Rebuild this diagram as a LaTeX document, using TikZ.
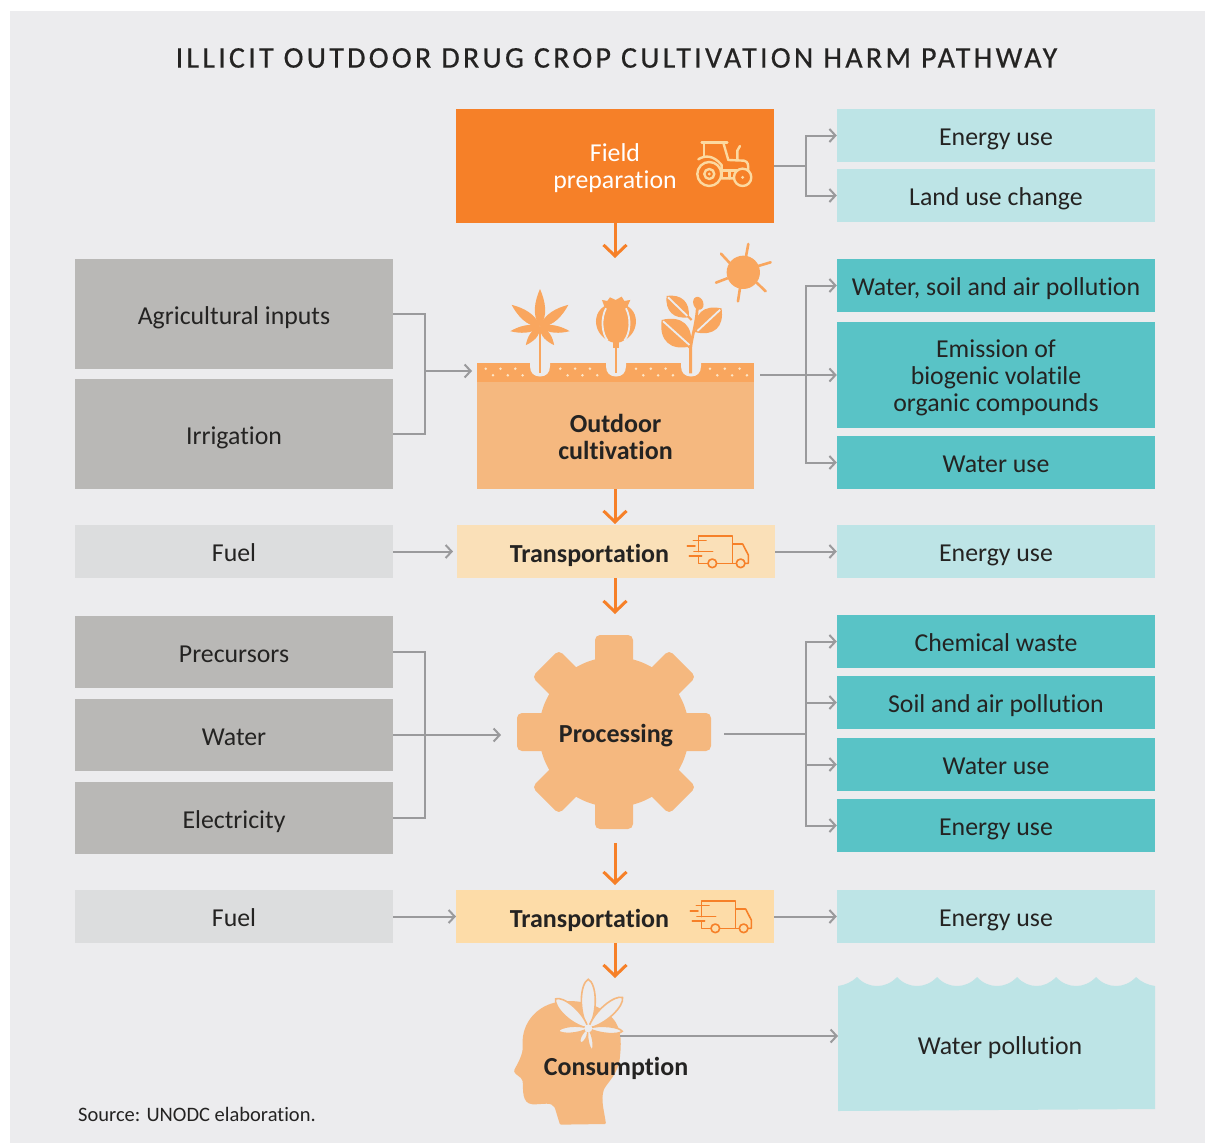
\documentclass[tikz,border=0pt]{standalone}
\usepackage{fontspec}
\setmainfont[Ligatures=NoCommon]{Carlito}
\newfontfamily\titlefont[LetterSpace=10.8,FakeBold=0.5,Ligatures=NoCommon]{Carlito}
\usetikzlibrary{arrows.meta}
\definecolor{bgc}{HTML}{ECECEE}
\definecolor{fieldc}{HTML}{F68028}
\definecolor{lteal}{HTML}{BDE4E6}
\definecolor{dteal}{HTML}{59C3C6}
\definecolor{dgray}{HTML}{B9B8B6}
\definecolor{lgray}{HTML}{DCDDDE}
\definecolor{transa}{HTML}{FAE0B8}
\definecolor{transb}{HTML}{FDDCA8}
\definecolor{tanc}{HTML}{F5B87F}
\definecolor{soilc}{HTML}{F9A65E}
\definecolor{txtc}{HTML}{242322}
\definecolor{linec}{HTML}{9A9A9C}
\definecolor{tractorc}{HTML}{FCD9A0}
\definecolor{dotc}{HTML}{FDE6C8}
\newcommand\petal[6]{\path[#1,shift={(#2,#3)},rotate=#4] (0,0) .. controls ({.3*#5},{#6}) and ({.7*#5},{.6*#6}) .. (#5,0) .. controls ({.7*#5},{-.6*#6}) and ({.3*#5},{-#6}) .. cycle;}
\newcommand\roundpetal[6]{\path[#1,shift={(#2,#3)},rotate=#4] (0,0) .. controls ({.35*#5},{1.05*#6}) and ({.92*#5},{.8*#6}) .. (#5,0) .. controls ({.92*#5},{-.8*#6}) and ({.35*#5},{-1.05*#6}) .. cycle;}
\tikzset{
  x=1pt,y=-1pt,
  boxbase/.style={inner sep=0pt,minimum width=318pt,align=center,text=txtc,font=\fontsize{25.8}{27}\selectfont},
  oneline/.style={text height=20pt,text depth=0pt},
  lightbox/.style={boxbase,oneline,fill=lteal},
  tealbox/.style={boxbase,oneline,fill=dteal},
  graybox/.style={boxbase,oneline,fill=dgray},
  fuelbox/.style={boxbase,oneline,fill=lgray},
  plainbox/.style={inner sep=0pt},
  strong/.style={inner sep=0pt,align=center,text=txtc,font=\fontsize{26}{27}\selectfont\bfseries},
  gline/.style={draw=linec,line width=2pt},
  garrow/.style={gline,-{Straight Barb[length=6pt,width=13pt,line width=2pt]}},
  oarrow/.style={draw=fieldc,line width=3pt,-{Straight Barb[length=11pt,width=23pt,line width=3pt]}},
  tractorline/.style={draw=tractorc,line width=2.4pt,line cap=round,line join=round},
  truckline/.style={draw=fieldc,line width=1.6pt,line cap=round,line join=round},
}
\begin{document}
\begin{tikzpicture}
\useasboundingbox (0,0) rectangle (1205,1143);
\fill[white] (0,0) rectangle (1205,1143);
\fill[bgc] (10,11) rectangle (1205,1143);

\node[inner sep=0pt,text=txtc,font=\fontsize{30}{32}\titlefont] (title) at (616.5,58) {ILLICIT OUTDOOR DRUG CROP CULTIVATION HARM PATHWAY};
\node[inner sep=0pt,anchor=west,text=txtc,font=\fontsize{20.5}{23}\selectfont] (source) at (78,1114) {Source: UNODC elaboration.};

% central column
\node[plainbox,minimum width=318pt,minimum height=114pt,fill=fieldc] (field) at (615,166) {};
\node[inner sep=0pt,align=center,text=white,font=\fontsize{25.8}{27}\selectfont] (fieldtxt) at (615,168) {Field\\preparation};
\node[plainbox,fill=tanc,minimum width=277pt,minimum height=107pt] (cult) at (615.5,435.5) {};
\node[strong] (culttxt) at (615.5,437) {Outdoor\\cultivation};
\node[plainbox,fill=transa,minimum width=318pt,minimum height=53pt] (t1) at (616,551.5) {};
\node[strong] (t1txt) at (589.5,555) {Transportation};
\node[plainbox,fill=transb,minimum width=318pt,minimum height=53pt] (t2) at (615,916.5) {};
\node[strong] (t2txt) at (589.5,920) {Transportation};

% soil
\fill[soilc] (477,363) rectangle (754,382);
\foreach \cx in {540,616,691}{
  \fill[bgc] (\cx-10,363) -- (\cx-10,366) .. controls (\cx-10,373) and (\cx-6,376.5) .. (\cx,376.5) .. controls (\cx+6,376.5) and (\cx+10,373) .. (\cx+10,366) -- (\cx+10,363) -- cycle;
}
\foreach \gx in {485.7,560.3,636,710}{
  \foreach \i in {0,1,2}{
    \fill[dotc] (\gx+\i*14.8,368.7) circle (1.4);
    \fill[dotc] (\gx+7.3+\i*14.8,375.3) circle (1.4);
  }
}
% cannabis
\draw[soilc,line width=2.8pt] (540,330) -- (540,373);
\foreach \a/\l/\w in {90/38/8.5,38/36/8,142/36/8,-8/30/6,188/30/6,-52/23/6,232/23/6}{
  \petal{fill=soilc}{540}{327}{\a}{\l}{\w}
}
% poppy
\begin{scope}[shift={(450,100)},scale=.3333]
  \draw[soilc,line width=2.8pt] (498,720) -- (498,820);
  \fill[soilc] (498,610) .. controls (578,610) and (578,715) .. (498,730) .. controls (418,715) and (418,610) .. (498,610) -- cycle;
  \fill[soilc] (456,600) -- (472,603) -- (480,592) -- (497,600) -- (515,590) -- (523,603) -- (541,600) -- (530,625) -- (465,625) -- cycle;
  \fill[soilc] (488,725) rectangle (508,745);
  \draw[bgc,line width=1.8pt] (468,625) .. controls (452,655) and (455,700) .. (473,722);
  \draw[bgc,line width=1.8pt] (528,625) .. controls (544,655) and (541,700) .. (523,722);
  % third plant
  \draw[soilc,line width=2.8pt] (722,820) -- (722,745) .. controls (725,710) and (738,680) .. (742,625);
  \draw[soilc,line width=2.2pt] (722,745) -- (700,725);
  \draw[soilc,line width=2.2pt] (735,695) -- (760,670);
  \draw[soilc,line width=2.2pt] (725,660) -- (705,640);
  \fill[soilc,rotate around={-70:(745,610)}] (745,610) ellipse (20 and 15);
\end{scope}
\begin{scope}[shift={(450,100)},scale=.3333]
  \foreach \sx/\sy/\a/\l/\w in {650/588/-44/92/36, 635/660/-42/118/52, 738/697/43/105/46}{
    \path[fill=soilc,shift={(\sx,\sy)},rotate=\a] (0,0) .. controls ({.3*\l},{\w}) and ({.7*\l},{\w}) .. (\l,0) .. controls ({.7*\l},{-\w}) and ({.3*\l},{-\w}) .. cycle;
    \draw[bgc,line width=1.8pt,shift={(\sx,\sy)},rotate=\a] (6,0) -- ({\l-6},0);
  }
\end{scope}
% sun
\begin{scope}[shift={(450,100)},scale=.3333]
  \fill[soilc] (880,517) circle (50);
  \draw[soilc,line width=2.6pt,line cap=round] (888,470) -- (895,432) (925,498) -- (962,487) (920,548) -- (947,574) (870,565) -- (864,604) (832,535) -- (798,548) (840,490) -- (813,461);
\end{scope}
% tractor
\begin{scope}[shift={(450,100)},scale=.3333]
  \draw[tractorline] (778,222) circle (36);
  \draw[tractorline] (778,222) circle (15);
  \fill[tractorc] (778,222) circle (5);
  \draw[tractorline] (878,232) circle (26);
  \fill[tractorc] (878,232) circle (5);
  \draw[tractorline] (755,128) -- (832,128);
  \draw[tractorline] (762,128) -- (762,168);
  \draw[tractorline] (820,128) -- (835,180);
  \draw[tractorline] (745,178) .. controls (765,165) and (790,165) .. (815,195) -- (815,235) -- (850,235);
  \draw[tractorline] (835,180) -- (882,182) .. controls (895,185) and (895,195) .. (895,212);
  \draw[tractorline] (862,180) -- (862,152) -- (870,138);
  \draw[tractorline] (815,212) -- (862,212);
  \draw[tractorline] (838,212) -- (838,235);
\end{scope}
% trucks
\foreach \tx/\ty in {450/510,453/875}{
\begin{scope}[shift={(\tx,\ty)},scale=.3333]
  \draw[truckline] (745,92) -- (745,78) -- (848,78) -- (848,160) -- (858,160);
  \draw[truckline] (848,102) -- (878,102) -- (895,135) -- (895,160) -- (885,160);
  \draw[truckline] (800,160) -- (848,160);
  \draw[truckline] (787,160) circle (13);
  \draw[truckline] (872,160) circle (13);
  \draw[truckline] (730,92) -- (768,92);
  \draw[truckline] (712,108) -- (735,108);
  \draw[truckline] (745,92) -- (745,125);
  \draw[truckline] (732,125) -- (788,125);
  \draw[truckline] (718,138) -- (755,138);
  \draw[truckline] (745,138) -- (745,160) -- (773,160);
\end{scope}
}
% gear
\foreach \a in {0,45,...,315}{
  \fill[tanc,rounded corners=5pt,rotate around={\a:(614,732)}] (595,635) rectangle (633,680);
}
\fill[tanc] (614,732) circle (75);
\node[strong] (proc) at (616,736) {Processing};
% head
\begin{scope}[shift={(450,960)},scale=.3333]
  \fill[tanc,rounded corners=1pt] (330,494) -- (468,492) .. controls (462,450) and (452,420) .. (462,388) .. controls (475,365) and (505,340) .. (510,290) .. controls (515,240) and (515,190) .. (470,160) .. controls (430,125) and (370,120) .. (330,125) .. controls (260,135) and (215,190) .. (218,255) .. controls (220,285) and (200,315) .. (192,332) .. controls (195,345) and (215,350) .. (218,365) .. controls (220,390) and (215,430) .. (250,433) .. controls (280,433) and (305,425) .. (315,445) -- cycle;
\end{scope}
\foreach \a/\l/\w in {90/49/10,42/46/9,138/44/9,-5/34/5,185/30/5,242/17/4,-80/22/3.5}{
  \roundpetal{fill=bgc,draw=tanc,line width=1.6pt}{588.3}{1028.3}{\a}{\l}{\w}
}
\fill[bgc] (588.3,1028.3) circle (4);
\node[strong] (cons) at (616,1068) {Consumption};

% water pollution
\path[fill=lteal] (838,986) .. controls (845,985) and (852,982) .. (857,977)
  .. controls (868,989) and (886,989) .. (897,977)
  .. controls (908,989) and (926,989) .. (937,977)
  .. controls (948,989) and (966,989) .. (977,977)
  .. controls (988,989) and (1006,989) .. (1017,977)
  .. controls (1028,989) and (1045,989) .. (1056,977)
  .. controls (1067,989) and (1085,989) .. (1096,977)
  .. controls (1107,989) and (1125,989) .. (1136,977)
  .. controls (1141,982) and (1148,985) .. (1155,986) -- (1155,1109) -- (838,1111) -- cycle;
\node[inner sep=0pt,text=txtc,font=\fontsize{25.8}{27}\selectfont] (wp) at (1000,1048) {Water pollution};

% left boxes
\node[graybox,minimum height=110pt] (agri) at (234,314) {Agricultural inputs};
\node[graybox,minimum height=110pt] (irr) at (234,434) {Irrigation};
\node[fuelbox,minimum height=53pt] (fuel1) at (234,551.5) {Fuel};
\node[graybox,minimum height=72pt] (prec) at (234,652) {Precursors};
\node[graybox,minimum height=72pt] (wat) at (234,735) {Water};
\node[graybox,minimum height=72pt] (elec) at (234,818) {Electricity};
\node[fuelbox,minimum height=53pt] (fuel2) at (234,916.5) {Fuel};

% right boxes
\node[lightbox,minimum height=53pt] (e1) at (996,135.5) {Energy use};
\node[lightbox,minimum height=53pt] (luc) at (996,195.5) {Land use change};
\node[tealbox,minimum height=53pt] (wsa) at (996,285.5) {Water, soil and air pollution};
\node[plainbox,fill=dteal,minimum width=318pt,minimum height=106pt] (bvoc) at (996,375) {};
\node[inner sep=0pt,align=center,text=txtc,font=\fontsize{25.8}{27}\selectfont] (bvoctxt) at (996,378) {Emission of\\biogenic volatile\\organic compounds};
\node[tealbox,minimum height=53pt] (wu1) at (996,462.5) {Water use};
\node[lightbox,minimum height=53pt] (e2) at (996,551.5) {Energy use};
\node[tealbox,minimum height=53pt] (chem) at (996,641.5) {Chemical waste};
\node[tealbox,minimum height=53pt] (sap) at (996,702.5) {Soil and air pollution};
\node[tealbox,minimum height=53pt] (wu2) at (996,764.5) {Water use};
\node[tealbox,minimum height=53pt] (e3) at (996,825.5) {Energy use};
\node[lightbox,minimum height=53pt] (e4) at (996,916.5) {Energy use};

% junction coordinates
\coordinate (j1) at (806,166);
\coordinate (j2) at (806,375);
\coordinate (j3) at (806,733.5);
\coordinate (cultout) at (760,375);
\coordinate (cultin) at (472,371);
\coordinate (l1) at (425,371);
\coordinate (l2) at (425,735);
\coordinate (procin) at (501,735);
\coordinate (procout) at (724,733.5);
\coordinate (a1) at (615,258);
\coordinate (a2) at (615,524);
\coordinate (a3) at (615,614);
\coordinate (a4s) at (615,843);
\coordinate (a4) at (615,885);
\coordinate (a5) at (615,978);
\coordinate (headout) at (620,1036);
\coordinate (wpin) at (838,1036);
\coordinate (f1in) at (453,551.5);
\coordinate (f2in) at (456,916.5);

% orange arrows
\draw[oarrow] (field.south) -- (a1);
\draw[oarrow] (cult.south -| a2) -- (a2);
\draw[oarrow] (t1.south -| a3) -- (a3);
\draw[oarrow] (a4s) -- (a4);
\draw[oarrow] (t2.south) -- (a5);

% grey connectors
\draw[gline] (field.east) -- (j1);
\draw[garrow] (j1) |- (e1.west);
\draw[garrow] (j1) |- (luc.west);
\draw[gline] (agri.east) -| (l1);
\draw[gline] (irr.east) -| (l1);
\draw[garrow] (l1) -- (cultin);
\draw[garrow] (cultout) -- (bvoc.west);
\draw[garrow] (j2) |- (wsa.west);
\draw[garrow] (j2) |- (wu1.west);
\draw[garrow] (fuel1.east) -- (f1in);
\draw[garrow] (t1.east) -- (e2.west);
\draw[gline] (prec.east) -| (l2);
\draw[gline] (elec.east) -| (l2);
\draw[garrow] (wat.east) -- (procin);
\draw[gline] (procout) -- (j3);
\draw[garrow] (j3) |- (chem.west);
\draw[garrow] (j3) |- (sap.west);
\draw[garrow] (j3) |- (wu2.west);
\draw[garrow] (j3) |- (e3.west);
\draw[garrow] (fuel2.east) -- (f2in);
\draw[garrow] (t2.east) -- (e4.west);
\draw[garrow] (headout) -- (wpin);
\end{tikzpicture}
\end{document}
